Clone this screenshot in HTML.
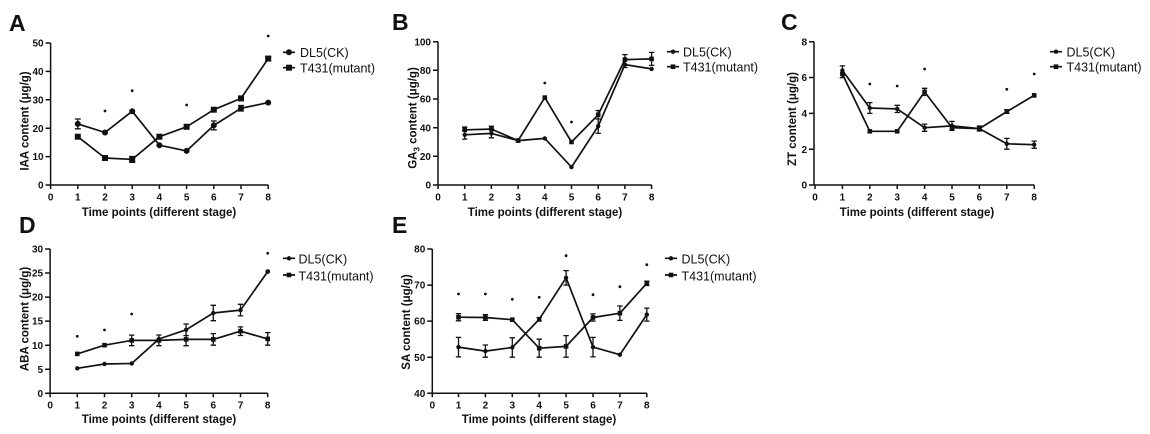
<!DOCTYPE html>
<html><head><meta charset="utf-8"><style>
html,body{margin:0;padding:0;background:#fff;}
svg{display:block;}
text{font-family:"Liberation Sans",Arial,sans-serif;fill:#111;}
.tk{font-size:10px;font-weight:bold;}
.ti{font-size:11.5px;font-weight:bold;}
.lg{font-size:12.5px;}
.pl{font-size:23px;font-weight:bold;}
.ax{stroke:#111;stroke-width:1.5;fill:none;}
.ln{stroke:#111;stroke-width:1.7;fill:none;stroke-linejoin:round;}
.eb{stroke:#111;stroke-width:1.3;fill:none;}
</style></head><body>
<svg width="1150" height="434" viewBox="0 0 1150 434" xmlns="http://www.w3.org/2000/svg">
<rect width="1150" height="434" fill="#fff"/>

<!-- ================= Panel A ================= -->
<text class="pl" x="9" y="31">A</text>
<path class="ax" d="M50.6,43 V185 H268.2 M45.6,43 H50.6 M45.6,71.4 H50.6 M45.6,99.8 H50.6 M45.6,128.2 H50.6 M45.6,156.6 H50.6 M45.6,185 H50.6 M50.6,185 V189 M77.8,185 V189 M105,185 V189 M132.2,185 V189 M159.4,185 V189 M186.6,185 V189 M213.8,185 V189 M241,185 V189 M268.2,185 V189"/>
<g class="tk" text-anchor="end">
<text x="43.6" y="46.6">50</text><text x="43.6" y="75">40</text><text x="43.6" y="103.4">30</text><text x="43.6" y="131.8">20</text><text x="43.6" y="160.2">10</text><text x="43.6" y="188.6">0</text>
</g>
<g class="tk" text-anchor="middle">
<text x="50.6" y="200.5">0</text><text x="77.8" y="200.5">1</text><text x="105" y="200.5">2</text><text x="132.2" y="200.5">3</text><text x="159.4" y="200.5">4</text><text x="186.6" y="200.5">5</text><text x="213.8" y="200.5">6</text><text x="241" y="200.5">7</text><text x="268.2" y="200.5">8</text>
</g>
<text class="ti" x="159" y="216" text-anchor="middle">Time points (different stage)</text>
<text class="ti" transform="translate(28.5,121) rotate(-90)" text-anchor="middle">IAA content (μg/g)</text>
<polyline class="ln" points="77.8,123.9 105,132.5 132.2,111.2 159.4,145.2 186.6,150.9 213.8,125.4 241,108.3 268.2,102.6"/>
<polyline class="ln" points="77.8,136.7 105,158 132.2,159.4 159.4,136.7 186.6,126.8 213.8,109.7 241,98.4 268.2,58.6"/>
<path class="eb" d="M77.8,119 V128.8 M74.8,119 H80.8 M74.8,128.8 H80.8 M213.8,121 V129.8 M210.8,121 H216.8 M210.8,129.8 H216.8 M241,105.5 V111 M238,105.5 H244 M238,111 H244 M132.2,156.5 V162.3 M129.2,156.5 H135.2 M129.2,162.3 H135.2 M268.2,56.5 V60.7 M265.2,56.5 H271.2 M265.2,60.7 H271.2"/>
<g fill="#111">
<circle cx="77.8" cy="123.9" r="3"/><circle cx="105" cy="132.5" r="3"/><circle cx="132.2" cy="111.2" r="3"/><circle cx="159.4" cy="145.2" r="3"/><circle cx="186.6" cy="150.9" r="3"/><circle cx="213.8" cy="125.4" r="3"/><circle cx="241" cy="108.3" r="3"/><circle cx="268.2" cy="102.6" r="3"/>
<rect x="74.8" y="133.7" width="6" height="6"/><rect x="102" y="155" width="6" height="6"/><rect x="129.2" y="156.4" width="6" height="6"/><rect x="156.4" y="133.7" width="6" height="6"/><rect x="183.6" y="123.8" width="6" height="6"/><rect x="210.8" y="106.7" width="6" height="6"/><rect x="238" y="95.4" width="6" height="6"/><rect x="265.2" y="55.6" width="6" height="6"/>
<circle cx="105" cy="111" r="1.4"/><circle cx="132.2" cy="90.7" r="1.4"/><circle cx="186.6" cy="105" r="1.4"/><circle cx="268.2" cy="36" r="1.4"/>
</g>
<path class="ln" d="M283,52.3 H295 M283,67.7 H295"/>
<circle cx="289" cy="52.3" r="3" fill="#111"/><rect x="286" y="64.7" width="6" height="6" fill="#111"/>
<text class="lg" x="300" y="57">DL5(CK)</text>
<text class="lg" x="300" y="72.5">T431(mutant)</text>

<!-- ================= Panel B ================= -->
<text class="pl" x="392" y="30">B</text>
<path class="ax" d="M438,41.7 V185 H651.6 M433,41.7 H438 M433,70.3 H438 M433,99 H438 M433,127.7 H438 M433,156.3 H438 M433,185 H438 M438,185 V189 M464.7,185 V189 M491.4,185 V189 M518.1,185 V189 M544.8,185 V189 M571.5,185 V189 M598.2,185 V189 M624.9,185 V189 M651.6,185 V189"/>
<g class="tk" text-anchor="end">
<text x="431" y="45.3">100</text><text x="431" y="73.9">80</text><text x="431" y="102.6">60</text><text x="431" y="131.3">40</text><text x="431" y="159.9">20</text><text x="431" y="188.6">0</text>
</g>
<g class="tk" text-anchor="middle">
<text x="438" y="200.5">0</text><text x="464.7" y="200.5">1</text><text x="491.4" y="200.5">2</text><text x="518.1" y="200.5">3</text><text x="544.8" y="200.5">4</text><text x="571.5" y="200.5">5</text><text x="598.2" y="200.5">6</text><text x="624.9" y="200.5">7</text><text x="651.6" y="200.5">8</text>
</g>
<text class="ti" x="545" y="216" text-anchor="middle">Time points (different stage)</text>
<text class="ti" transform="translate(416.5,118) rotate(-90)" text-anchor="middle">GA<tspan font-size="8" dy="3">3</tspan><tspan dy="-3"> content (μg/g)</tspan></text>
<polyline class="ln" points="464.7,134.8 491.4,133.4 518.1,140.6 544.8,138.4 571.5,167.1 598.2,126.2 624.9,64.6 651.6,68.9"/>
<polyline class="ln" points="464.7,129.8 491.4,129.1 518.1,140.6 544.8,97.6 571.5,142 598.2,114.8 624.9,59.6 651.6,58.9"/>
<path class="eb" d="M464.7,130.5 V139.1 M462,130.5 H467.4 M462,139.1 H467.4 M491.4,129 V137.8 M488.7,129 H494.1 M488.7,137.8 H494.1 M598.2,119 V133.4 M595.5,119 H600.9 M595.5,133.4 H600.9 M624.9,54.6 V67.5 M622.2,54.6 H627.6 M622.2,67.5 H627.6 M464.7,127 V132.6 M462,127 H467.4 M491.4,126.3 H494.1 M488.7,126.3 H494.1 M598.2,110.5 V119 M595.5,110.5 H600.9 M651.6,52.4 V65.4 M648.9,52.4 H654.3 M648.9,65.4 H654.3"/>
<g fill="#111">
<circle cx="464.7" cy="134.8" r="2.2"/><circle cx="491.4" cy="133.4" r="2.2"/><circle cx="518.1" cy="140.6" r="2.2"/><circle cx="544.8" cy="138.4" r="2.2"/><circle cx="571.5" cy="167.1" r="2.2"/><circle cx="598.2" cy="126.2" r="2.2"/><circle cx="624.9" cy="64.6" r="2.2"/><circle cx="651.6" cy="68.9" r="2.2"/>
<rect x="462.4" y="127.5" width="4.6" height="4.6"/><rect x="489.1" y="126.8" width="4.6" height="4.6"/><rect x="515.8" y="138.3" width="4.6" height="4.6"/><rect x="542.5" y="95.3" width="4.6" height="4.6"/><rect x="569.2" y="139.7" width="4.6" height="4.6"/><rect x="595.9" y="112.5" width="4.6" height="4.6"/><rect x="622.6" y="57.3" width="4.6" height="4.6"/><rect x="649.3" y="56.6" width="4.6" height="4.6"/>
<circle cx="544.8" cy="83" r="1.4"/><circle cx="571.5" cy="122" r="1.4"/>
</g>
<path class="ln" d="M667,51.7 H679 M667,66.7 H679"/>
<circle cx="673" cy="51.7" r="2.2" fill="#111"/><rect x="670.7" y="64.4" width="4.6" height="4.6" fill="#111"/>
<text class="lg" x="683" y="56.5">DL5(CK)</text>
<text class="lg" x="683" y="71.5">T431(mutant)</text>

<!-- ================= Panel C ================= -->
<text class="pl" x="781" y="30">C</text>
<path class="ax" d="M814,41.7 V185 H1034.2 M809,41.7 H814 M809,77.5 H814 M809,113.4 H814 M809,149.2 H814 M809,185 H814 M815,185 V189 M842.4,185 V189 M869.8,185 V189 M897.2,185 V189 M924.6,185 V189 M952,185 V189 M979.4,185 V189 M1006.8,185 V189 M1034.2,185 V189"/>
<g class="tk" text-anchor="end">
<text x="807" y="45.3">8</text><text x="807" y="81.1">6</text><text x="807" y="117">4</text><text x="807" y="152.8">2</text><text x="807" y="188.6">0</text>
</g>
<g class="tk" text-anchor="middle">
<text x="815" y="200.5">0</text><text x="842.4" y="200.5">1</text><text x="869.8" y="200.5">2</text><text x="897.2" y="200.5">3</text><text x="924.6" y="200.5">4</text><text x="952" y="200.5">5</text><text x="979.4" y="200.5">6</text><text x="1006.8" y="200.5">7</text><text x="1034.2" y="200.5">8</text>
</g>
<text class="ti" x="917" y="216" text-anchor="middle">Time points (different stage)</text>
<text class="ti" transform="translate(796,119) rotate(-90)" text-anchor="middle">ZT content (μg/g)</text>
<polyline class="ln" points="842.4,74 869.8,131.3 897.2,131.3 924.6,91.9 952,127.7 979.4,128.6 1006.8,111.6 1034.2,95.4"/>
<polyline class="ln" points="842.4,70.4 869.8,108 897.2,108.9 924.6,127.7 952,125.9 979.4,128.6 1006.8,143.8 1034.2,144.7"/>
<path class="eb" d="M842.4,65.9 V77.6 M839.7,65.9 H845.1 M839.7,77.6 H845.1 M869.8,102.6 V113.4 M867.1,102.6 H872.5 M867.1,113.4 H872.5 M897.2,105.3 V112.5 M894.5,105.3 H899.9 M894.5,112.5 H899.9 M924.6,124.1 V131.3 M921.9,124.1 H927.3 M921.9,131.3 H927.3 M952,121.4 V130.4 M949.3,121.4 H954.7 M949.3,130.4 H954.7 M1006.8,138.4 V149.2 M1004.1,138.4 H1009.5 M1004.1,149.2 H1009.5 M1034.2,141.1 V148.3 M1031.5,141.1 H1036.9 M1031.5,148.3 H1036.9 M924.6,88.3 V95.5 M921.9,88.3 H927.3 M921.9,95.5 H927.3 M1006.8,109.8 V113.4 M1004.1,109.8 H1009.5 M1004.1,113.4 H1009.5 M979.4,126 V131 M976.7,126 H982.1 M976.7,131 H982.1"/>
<g fill="#111">
<circle cx="842.4" cy="70.4" r="2.2"/><circle cx="869.8" cy="108" r="2.2"/><circle cx="897.2" cy="108.9" r="2.2"/><circle cx="924.6" cy="127.7" r="2.2"/><circle cx="952" cy="125.9" r="2.2"/><circle cx="979.4" cy="128.6" r="2.2"/><circle cx="1006.8" cy="143.8" r="2.2"/><circle cx="1034.2" cy="144.7" r="2.2"/>
<rect x="840.1" y="71.7" width="4.6" height="4.6"/><rect x="867.5" y="129" width="4.6" height="4.6"/><rect x="894.9" y="129" width="4.6" height="4.6"/><rect x="922.3" y="89.6" width="4.6" height="4.6"/><rect x="949.7" y="125.4" width="4.6" height="4.6"/><rect x="977.1" y="126.3" width="4.6" height="4.6"/><rect x="1004.5" y="109.3" width="4.6" height="4.6"/><rect x="1031.9" y="93.1" width="4.6" height="4.6"/>
<circle cx="869.8" cy="84" r="1.4"/><circle cx="897.2" cy="86" r="1.4"/><circle cx="924.6" cy="69" r="1.4"/><circle cx="1006.8" cy="89.3" r="1.4"/><circle cx="1034.2" cy="74" r="1.4"/>
</g>
<path class="ln" d="M1050,51.7 H1062 M1050,66.7 H1062"/>
<circle cx="1056" cy="51.7" r="2.2" fill="#111"/><rect x="1053.7" y="64.4" width="4.6" height="4.6" fill="#111"/>
<text class="lg" x="1066.5" y="56.5">DL5(CK)</text>
<text class="lg" x="1066.5" y="71.5">T431(mutant)</text>

<!-- ================= Panel D ================= -->
<text class="pl" x="19" y="233">D</text>
<path class="ax" d="M50.1,249 V393.3 H267.7 M45.1,249 H50.1 M45.1,273 H50.1 M45.1,297.1 H50.1 M45.1,321.1 H50.1 M45.1,345.2 H50.1 M45.1,369.2 H50.1 M45.1,393.3 H50.1 M50.1,393.3 V397.3 M77.3,393.3 V397.3 M104.5,393.3 V397.3 M131.7,393.3 V397.3 M158.9,393.3 V397.3 M186.1,393.3 V397.3 M213.3,393.3 V397.3 M240.5,393.3 V397.3 M267.7,393.3 V397.3"/>
<g class="tk" text-anchor="end">
<text x="43.1" y="252.6">30</text><text x="43.1" y="276.6">25</text><text x="43.1" y="300.7">20</text><text x="43.1" y="324.7">15</text><text x="43.1" y="348.8">10</text><text x="43.1" y="372.8">5</text><text x="43.1" y="396.9">0</text>
</g>
<g class="tk" text-anchor="middle">
<text x="50.1" y="408.5">0</text><text x="77.3" y="408.5">1</text><text x="104.5" y="408.5">2</text><text x="131.7" y="408.5">3</text><text x="158.9" y="408.5">4</text><text x="186.1" y="408.5">5</text><text x="213.3" y="408.5">6</text><text x="240.5" y="408.5">7</text><text x="267.7" y="408.5">8</text>
</g>
<text class="ti" x="159" y="423" text-anchor="middle">Time points (different stage)</text>
<text class="ti" transform="translate(28.5,319) rotate(-90)" text-anchor="middle">ABA content (μg/g)</text>
<polyline class="ln" points="77.3,368.3 104.5,364 131.7,363.5 158.9,339 186.1,329.8 213.3,313 240.5,310.1 267.7,271.6"/>
<polyline class="ln" points="77.3,353.9 104.5,345.2 131.7,340.4 158.9,340.4 186.1,339.4 213.3,339.4 240.5,331.2 267.7,338.9"/>
<path class="eb" d="M186.1,324 V335.6 M183.4,324 H188.8 M183.4,335.6 H188.8 M213.3,305.3 V320.7 M210.6,305.3 H216 M210.6,320.7 H216 M240.5,304.3 V315.9 M237.8,304.3 H243.2 M237.8,315.9 H243.2 M158.9,335 V345.7 M156.2,335 H161.6 M156.2,345.7 H161.6 M131.7,335.1 V345.7 M129,335.1 H134.4 M129,345.7 H134.4 M186.1,333.1 V345.7 M183.4,345.7 H188.8 M213.3,333.6 V345.2 M210.6,333.6 H216 M210.6,345.2 H216 M240.5,326.9 V335.5 M237.8,326.9 H243.2 M237.8,335.5 H243.2 M267.7,332.6 V345.2 M265,332.6 H270.4 M265,345.2 H270.4"/>
<g fill="#111">
<circle cx="77.3" cy="368.3" r="2.2"/><circle cx="104.5" cy="364" r="2.2"/><circle cx="131.7" cy="363.5" r="2.2"/><circle cx="158.9" cy="339" r="2.2"/><circle cx="186.1" cy="329.8" r="2.2"/><circle cx="213.3" cy="313" r="2.2"/><circle cx="240.5" cy="310.1" r="2.2"/><circle cx="267.7" cy="271.6" r="2.4"/>
<rect x="75" y="351.6" width="4.6" height="4.6"/><rect x="102.2" y="342.9" width="4.6" height="4.6"/><rect x="129.4" y="338.1" width="4.6" height="4.6"/><rect x="156.6" y="338.1" width="4.6" height="4.6"/><rect x="183.8" y="337.1" width="4.6" height="4.6"/><rect x="211" y="337.1" width="4.6" height="4.6"/><rect x="238.2" y="328.9" width="4.6" height="4.6"/><rect x="265.4" y="336.6" width="4.6" height="4.6"/>
<circle cx="77.3" cy="336.3" r="1.4"/><circle cx="104.5" cy="330" r="1.4"/><circle cx="131.7" cy="314" r="1.4"/><circle cx="267.7" cy="253.3" r="1.4"/>
</g>
<path class="ln" d="M283,258.3 H295 M283,275 H295"/>
<circle cx="289" cy="258.3" r="2.2" fill="#111"/><rect x="286.7" y="272.7" width="4.6" height="4.6" fill="#111"/>
<text class="lg" x="298.5" y="263.5">DL5(CK)</text>
<text class="lg" x="298.5" y="280.3">T431(mutant)</text>

<!-- ================= Panel E ================= -->
<text class="pl" x="392" y="233">E</text>
<path class="ax" d="M432.3,249 V393.3 H646.8 M427.3,249 H432.3 M427.3,285.1 H432.3 M427.3,321.1 H432.3 M427.3,357.2 H432.3 M427.3,393.3 H432.3 M432.3,393.3 V397.3 M458.5,393.3 V397.3 M485.4,393.3 V397.3 M512.3,393.3 V397.3 M539.2,393.3 V397.3 M566.1,393.3 V397.3 M593,393.3 V397.3 M619.9,393.3 V397.3 M646.8,393.3 V397.3"/>
<g class="tk" text-anchor="end">
<text x="425.3" y="252.6">80</text><text x="425.3" y="288.7">70</text><text x="425.3" y="324.7">60</text><text x="425.3" y="360.8">50</text><text x="425.3" y="396.9">40</text>
</g>
<g class="tk" text-anchor="middle">
<text x="432.3" y="408.5">0</text><text x="458.5" y="408.5">1</text><text x="485.4" y="408.5">2</text><text x="512.3" y="408.5">3</text><text x="539.2" y="408.5">4</text><text x="566.1" y="408.5">5</text><text x="593" y="408.5">6</text><text x="619.9" y="408.5">7</text><text x="646.8" y="408.5">8</text>
</g>
<text class="ti" x="539" y="423" text-anchor="middle">Time points (different stage)</text>
<text class="ti" transform="translate(410,322) rotate(-90)" text-anchor="middle">SA content (μg/g)</text>
<polyline class="ln" points="458.5,317.2 485.4,317.5 512.3,319.7 539.2,348.2 566.1,346.4 593,317.5 619.9,313.2 646.8,283.3"/>
<polyline class="ln" points="458.5,347.1 485.4,351.1 512.3,347.5 539.2,319.3 566.1,277.8 593,347.1 619.9,354.7 646.8,314.6"/>
<path class="eb" d="M458.5,313.6 V320.8 M455.8,313.6 H461.2 M455.8,320.8 H461.2 M485.4,314.6 V320.4 M482.7,314.6 H488.1 M482.7,320.4 H488.1 M539.2,339.2 V357.2 M536.5,339.2 H541.9 M536.5,357.2 H541.9 M566.1,335.6 V357.2 M563.4,335.6 H568.8 M563.4,357.2 H568.8 M593,313.9 V321.1 M590.3,313.9 H595.7 M590.3,321.1 H595.7 M619.9,306 V320.4 M617.2,306 H622.6 M617.2,320.4 H622.6 M646.8,281.2 V285.5 M644.1,281.2 H649.5 M644.1,285.5 H649.5 M458.5,337.4 V356.9 M455.8,337.4 H461.2 M455.8,356.9 H461.2 M485.4,345 V357.2 M482.7,345 H488.1 M482.7,357.2 H488.1 M512.3,337.8 V357.2 M509.6,337.8 H515 M509.6,357.2 H515 M566.1,270.6 V285.1 M563.4,270.6 H568.8 M563.4,285.1 H568.8 M593,337.4 V356.9 M590.3,337.4 H595.7 M590.3,356.9 H595.7 M646.8,308.1 V321.1 M644.1,308.1 H649.5 M644.1,321.1 H649.5 M539.2,317.5 V321.1 M536.5,317.5 H541.9 M536.5,321.1 H541.9"/>
<g fill="#111">
<circle cx="458.5" cy="347.1" r="2.2"/><circle cx="485.4" cy="351.1" r="2.2"/><circle cx="512.3" cy="347.5" r="2.2"/><circle cx="539.2" cy="319.3" r="2.2"/><circle cx="566.1" cy="277.8" r="2.2"/><circle cx="593" cy="347.1" r="2.2"/><circle cx="619.9" cy="354.7" r="2.2"/><circle cx="646.8" cy="314.6" r="2.2"/>
<rect x="456.2" y="314.9" width="4.6" height="4.6"/><rect x="483.1" y="315.2" width="4.6" height="4.6"/><rect x="510" y="317.4" width="4.6" height="4.6"/><rect x="536.9" y="345.9" width="4.6" height="4.6"/><rect x="563.8" y="344.1" width="4.6" height="4.6"/><rect x="590.7" y="315.2" width="4.6" height="4.6"/><rect x="617.6" y="310.9" width="4.6" height="4.6"/><rect x="644.5" y="281" width="4.6" height="4.6"/>
<circle cx="458.5" cy="294" r="1.4"/><circle cx="485.4" cy="294" r="1.4"/><circle cx="512.3" cy="299.3" r="1.4"/><circle cx="539.2" cy="297.3" r="1.4"/><circle cx="566.1" cy="255.7" r="1.4"/><circle cx="593" cy="294.7" r="1.4"/><circle cx="619.9" cy="286.7" r="1.4"/><circle cx="646.8" cy="264.7" r="1.4"/>
</g>
<path class="ln" d="M665,258.3 H677 M665,275 H677"/>
<circle cx="671" cy="258.3" r="2.2" fill="#111"/><rect x="668.7" y="272.7" width="4.6" height="4.6" fill="#111"/>
<text class="lg" x="681.5" y="263.5">DL5(CK)</text>
<text class="lg" x="681.5" y="280.3">T431(mutant)</text>
</svg>
</body></html>
